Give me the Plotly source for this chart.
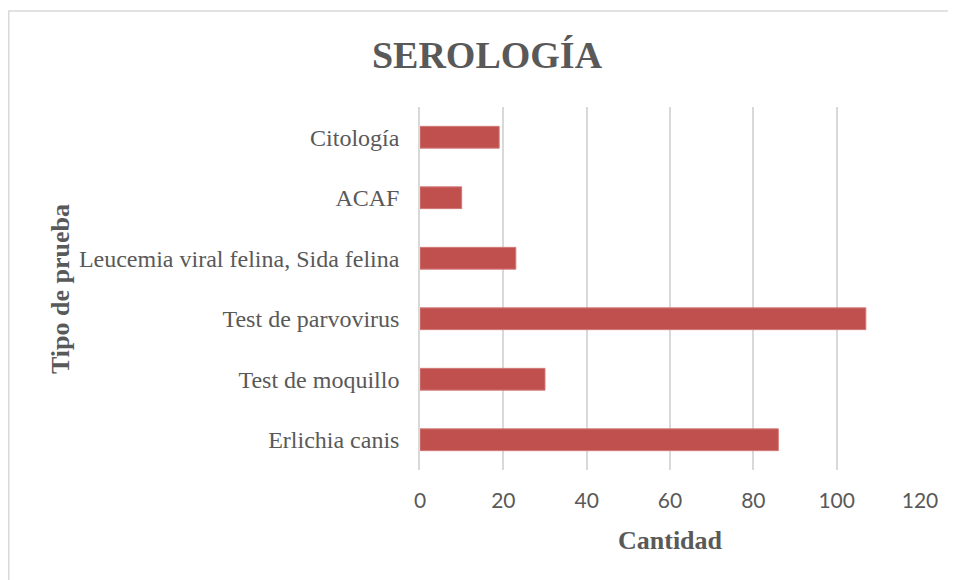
import plotly.graph_objects as go

categorias = [
    "Erlichia canis",
    "Test de moquillo",
    "Test de parvovirus",
    "Leucemia viral felina, Sida felina",
    "ACAF",
    "Citología",
]
cantidad = [86, 30, 107, 23, 10, 19]
ticks_x = [0, 20, 40, 60, 80, 100, 120]

gris = "#595959"
serif = "Liberation Serif, Times New Roman, serif"

# page body has an 8px margin, so the figure is 948x572
W, H = 948, 572
L, R, T, B = 412, 36, 99, 110
PW, PH = W - L - R, H - T - B


def px(x):
    return (x - L) / PW


def py(y):
    return (H - B - y) / PH


fig = go.Figure(
    go.Bar(
        x=cantidad,
        y=categorias,
        orientation="h",
        marker=dict(color="#C0504D", line=dict(color="#D27A78", width=1)),
    )
)

fig.update_layout(
    width=W,
    height=H,
    paper_bgcolor="white",
    plot_bgcolor="white",
    margin=dict(l=L, r=R, t=T, b=B),
    bargap=0.64,
    showlegend=False,
    title=dict(
        text="<b>SEROLOGÍA</b>",
        x=479 / W,
        xanchor="center",
        y=1 - 47 / H,
        yanchor="middle",
        font=dict(family=serif, size=38, color=gris),
    ),
    xaxis=dict(
        range=[0, 120],
        tickvals=ticks_x,
        showgrid=True,
        gridcolor="#D9D9D9",
        gridwidth=1.5,
        zeroline=False,
        showline=False,
        ticks="",
        ticklabelstandoff=16,
        tickfont=dict(family="Lato, Open Sans, sans-serif", size=21, color=gris),
        fixedrange=True,
    ),
    yaxis=dict(
        showgrid=False,
        zeroline=False,
        showline=True,
        linecolor="#D9D9D9",
        linewidth=1.5,
        ticks="",
        ticklabelstandoff=14,
        tickfont=dict(family=serif, size=24, color=gris),
        fixedrange=True,
    ),
    annotations=[
        dict(
            text="<b>Tipo de prueba</b>",
            xref="paper",
            yref="paper",
            x=px(52),
            y=py(281),
            textangle=-90,
            showarrow=False,
            xanchor="center",
            yanchor="middle",
            font=dict(family=serif, size=26, color=gris),
        ),
        dict(
            text="<b>Cantidad</b>",
            xref="paper",
            yref="paper",
            x=0.5,
            y=py(532),
            showarrow=False,
            xanchor="center",
            yanchor="middle",
            font=dict(family=serif, size=26, color=gris),
        ),
    ],
    shapes=[
        dict(
            type="rect",
            xref="paper",
            yref="paper",
            x0=px(0.75),
            x1=px(W + 20),
            y0=py(H + 20),
            y1=py(3),
            line=dict(color="#D9D9D9", width=1.5),
            layer="below",
        )
    ],
)

fig.write_html("out.html")
